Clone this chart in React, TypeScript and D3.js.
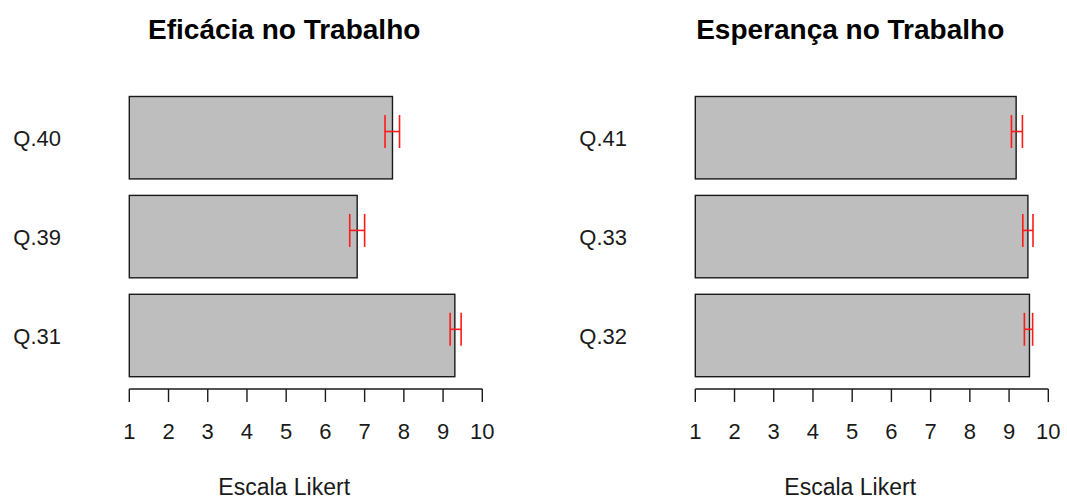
import React from "react";
import * as d3 from "d3";

// Eficácia no Trabalho (bottom to top)
const leftItems = ["Q.31", "Q.39", "Q.40"];
const leftMeans = [9.3, 6.81, 7.71];
const leftLower = [9.18, 6.62, 7.52];
const leftUpper = [9.46, 7.0, 7.89];

// Esperança no Trabalho (bottom to top)
const rightItems = ["Q.32", "Q.33", "Q.41"];
const rightMeans = [9.52, 9.48, 9.18];
const rightLower = [9.39, 9.35, 9.06];
const rightUpper = [9.6, 9.61, 9.34];

const xTicks = [1, 2, 3, 4, 5, 6, 7, 8, 9, 10];
const titles = ["Eficácia no Trabalho", "Esperança no Trabalho"];
const axisTitle = "Escala Likert";

const FONT = "'Liberation Sans', Arial, sans-serif";
const W = 1067;
const H = 499;

type PanelProps = {
  offsetX: number;
  title: string;
  items: string[];
  means: number[];
  lower: number[];
  upper: number[];
};

function Panel({ offsetX, title, items, means, lower, upper }: PanelProps) {
  const x = d3.scaleLinear().domain([1, 10]).range([129.3, 482.3]);
  // bar units as in a horizontal barplot: width 1, spacing 0.2
  const y = d3.scaleLinear().domain([0.2, 3.6]).range([376.7, 96.5]);
  const bars = items.map((name, i) => ({
    name,
    mean: means[i],
    lo: lower[i],
    hi: upper[i],
    start: 0.2 + i * 1.2,
    mid: 0.7 + i * 1.2,
  }));
  const titleX = 284.2;
  const axisY = 389;
  return (
    <g transform={`translate(${offsetX},0)`}>
      <text
        x={titleX}
        y={38.5}
        textAnchor="middle"
        fontFamily={FONT}
        fontWeight="bold"
        fontSize={28}
        fill="#000"
      >
        {title}
      </text>
      {bars.map((b) => (
        <g key={b.name}>
          <rect
            x={x(1)}
            y={y(b.start + 1)}
            width={x(b.mean) - x(1)}
            height={y(b.start) - y(b.start + 1)}
            fill="#bebebe"
            stroke="#1a1a1a"
            strokeWidth={1.4}
          />
          <text
            x={61}
            y={y(b.mid) + 8.5}
            textAnchor="end"
            fontFamily={FONT}
            fontSize={22}
            fill="#1a1a1a"
          >
            {b.name}
          </text>
          <g stroke="#ff1a1a" strokeWidth={1.6} fill="none">
            <line x1={x(b.lo)} x2={x(b.hi)} y1={y(b.mid + 0.075)} y2={y(b.mid + 0.075)} />
            <line x1={x(b.lo)} x2={x(b.lo)} y1={y(b.mid + 0.275)} y2={y(b.mid - 0.125)} />
            <line x1={x(b.hi)} x2={x(b.hi)} y1={y(b.mid + 0.275)} y2={y(b.mid - 0.125)} />
          </g>
        </g>
      ))}
      <g stroke="#1a1a1a" strokeWidth={1.4}>
        <line x1={x(1)} x2={x(10)} y1={axisY} y2={axisY} />
        {xTicks.map((t) => (
          <line key={t} x1={x(t)} x2={x(t)} y1={axisY} y2={axisY + 13} />
        ))}
      </g>
      {xTicks.map((t) => (
        <text
          key={t}
          x={x(t)}
          y={439.3}
          textAnchor="middle"
          fontFamily={FONT}
          fontSize={22}
          fill="#1a1a1a"
        >
          {t}
        </text>
      ))}
      <text
        x={titleX}
        y={494.5}
        textAnchor="middle"
        fontFamily={FONT}
        fontSize={23}
        fill="#1a1a1a"
      >
        {axisTitle}
      </text>
    </g>
  );
}

export default function App() {
  return (
    <svg
      width={W}
      height={H}
      viewBox={`0 0 ${W} ${H}`}
      style={{ position: "absolute", left: 0, top: 0, display: "block", background: "#fff" }}
    >
      <rect width={W} height={H} fill="#fff" />
      <Panel
        offsetX={0}
        title={titles[0]}
        items={leftItems}
        means={leftMeans}
        lower={leftLower}
        upper={leftUpper}
      />
      <Panel
        offsetX={566}
        title={titles[1]}
        items={rightItems}
        means={rightMeans}
        lower={rightLower}
        upper={rightUpper}
      />
    </svg>
  );
}
